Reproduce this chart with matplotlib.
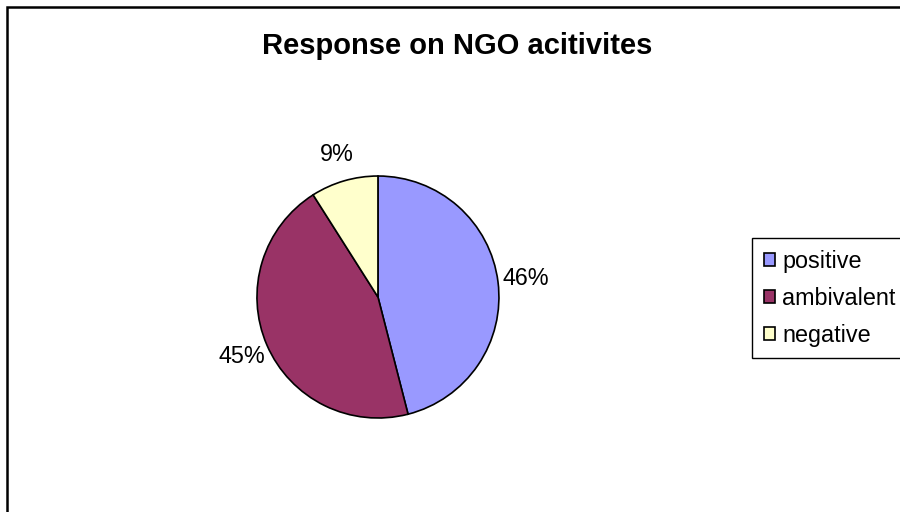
#!/usr/bin/env python
import matplotlib.pyplot as plt
plt.switch_backend('agg')
from matplotlib import rc
from matplotlib.patches import Rectangle

font = {'family' : 'Liberation Sans', 'size' : 16.8}
rc('font', **font)

categories = ['positive', 'ambivalent', 'negative']
shares = [46, 45, 9]
sliceColors = ['#9999FF', '#993366', '#FFFFCC']

fig = plt.figure(figsize=(9, 5.12), dpi=100)

# pie axes, centred at (378, 297) px with radius ~121 px
ax = fig.add_axes([0.2183, 0.0654, 0.4033, 0.709])
wedges, texts, autotexts = ax.pie(shares, colors=sliceColors, startangle=90, counterclock=False,
                                  autopct='%1.0f%%', pctdistance=1.23,
                                  wedgeprops={'edgecolor': 'black', 'linewidth': 1.2})
ax.set_xlim(-1.5, 1.5)
ax.set_ylim(-1.5, 1.5)
ax.set_aspect('equal')
ax.axis('off')

fig.text(457.0/900, 1 - 46.0/512, 'Response on NGO acitivites', ha='center', va='center',
         fontsize=21, fontweight='bold')

leg = fig.legend(wedges, categories, loc='upper left', bbox_to_anchor=(752.0/900, 1 - 238.0/512),
                 fancybox=False, shadow=False, framealpha=1, edgecolor='black',
                 handlelength=0.5, handleheight=0.5, handletextpad=0.3,
                 borderpad=0.5, labelspacing=0.6, borderaxespad=0.0)
leg.get_frame().set_linewidth(1.0)

# outer chart border (right and bottom edges fall outside the image)
fig.patches.append(Rectangle((7.0/900, -0.1), 1.2, 1.1 - 7.0/512, transform=fig.transFigure,
                             fill=False, edgecolor='black', linewidth=1.8))

plt.savefig('out.png', dpi=100)
plt.close()
